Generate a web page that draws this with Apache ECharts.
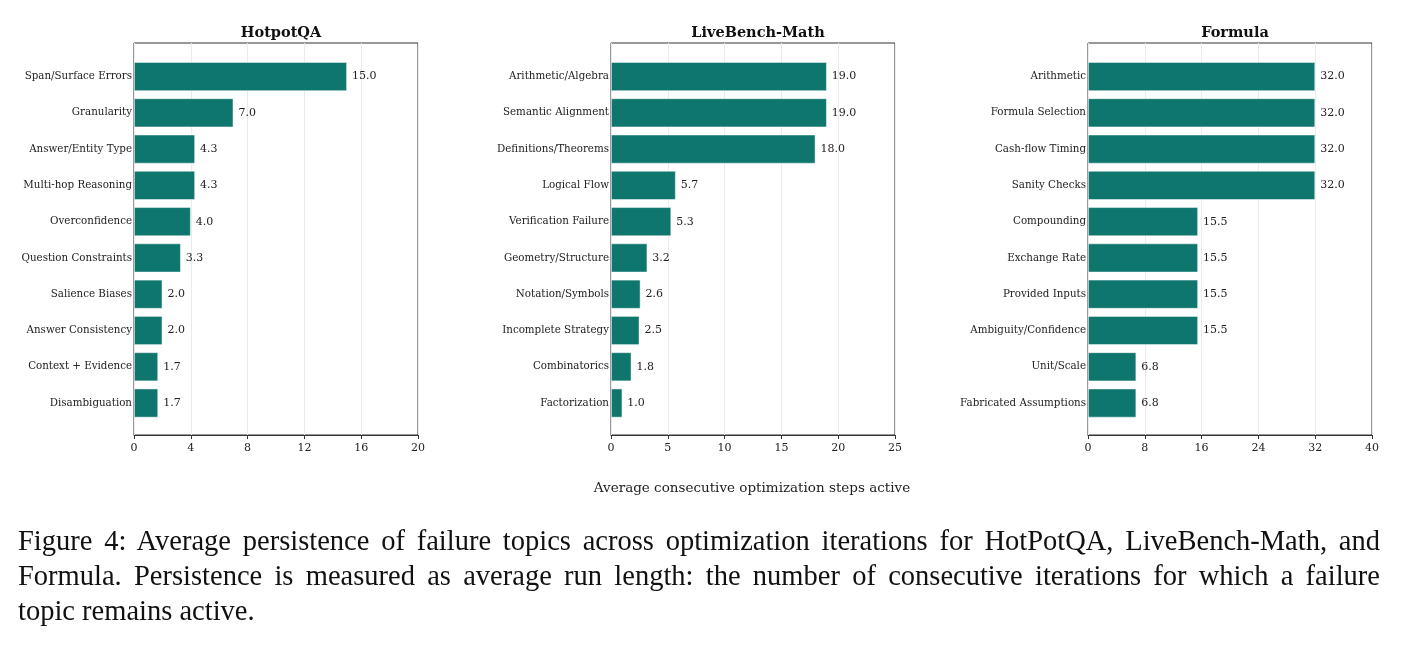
<!DOCTYPE html>
<html>
<head>
<meta charset="utf-8">
<script src="https://cdn.jsdelivr.net/npm/echarts@6/dist/echarts.min.js"></script>
<style>
    body { margin: 0; background: #fff; }
    #main { position: absolute; left: 0; top: 0; width: 1402px; height: 647px; }
    .cap {
        position: absolute;
        left: 18px;
        width: 1362px;
        font-family: 'Liberation Serif', 'Times New Roman', serif;
        font-size: 28.5px;
        line-height: 35px;
        color: #111;
        white-space: nowrap;
    }
    .just { text-align: justify; text-align-last: justify; white-space: normal; }
</style>
</head>
<body>
<div id="main"></div>
<div class="cap just" style="top:522.5px">Figure 4: Average persistence of failure topics across optimization iterations for HotPotQA, LiveBench-Math, and</div>
<div class="cap just" style="top:557.5px">Formula. Persistence is measured as average run length: the number of consecutive iterations for which a failure</div>
<div class="cap" style="top:592.5px">topic remains active.</div>
<script>
// 数据
const titles = ['HotpotQA', 'LiveBench-Math', 'Formula'];

const hotpotCats = ['Span/Surface Errors', 'Granularity', 'Answer/Entity Type', 'Multi-hop Reasoning', 'Overconfidence',
    'Question Constraints', 'Salience Biases', 'Answer Consistency', 'Context + Evidence', 'Disambiguation'];
const hotpotVals = [15.0, 7.0, 4.3, 4.3, 4.0, 3.3, 2.0, 2.0, 1.7, 1.7];

const mathCats = ['Arithmetic/Algebra', 'Semantic Alignment', 'Definitions/Theorems', 'Logical Flow', 'Verification Failure',
    'Geometry/Structure', 'Notation/Symbols', 'Incomplete Strategy', 'Combinatorics', 'Factorization'];
const mathVals = [19.0, 19.0, 18.0, 5.7, 5.3, 3.2, 2.6, 2.5, 1.8, 1.0];

const formulaCats = ['Arithmetic', 'Formula Selection', 'Cash-flow Timing', 'Sanity Checks', 'Compounding',
    'Exchange Rate', 'Provided Inputs', 'Ambiguity/Confidence', 'Unit/Scale', 'Fabricated Assumptions'];
const formulaVals = [32.0, 32.0, 32.0, 32.0, 15.5, 15.5, 15.5, 15.5, 6.8, 6.8];

const xMax = [20, 25, 40];
const xStep = [4, 5, 8];

const xLabel = 'Average consecutive optimization steps active';

// 布局
const panelLeft = [134, 611, 1088];
const panelWidth = 284;
const serif = 'DejaVu Serif';
const barColor = '#0f766e';

let cats = [hotpotCats, mathCats, formulaCats];
let vals = [hotpotVals, mathVals, formulaVals];

let grid = [], xAxis = [], yAxis = [], series = [], title = [];

for (let i = 0; i < 3; i++) {
    // 外框 + x轴
    grid.push({ left: panelLeft[i], width: panelWidth, top: 43, height: 392, show: true, borderColor: '#333', borderWidth: 1 });
    // 柱子区域
    grid.push({ left: panelLeft[i], width: panelWidth, top: 58.4, height: 362.8 });

    xAxis.push({
        type: 'value', gridIndex: i * 2, min: 0, max: xMax[i], interval: xStep[i],
        axisLine: { show: true, lineStyle: { color: '#333', width: 1 } },
        axisTick: { show: true, length: 4, lineStyle: { color: '#333' } },
        axisLabel: { fontFamily: serif, fontSize: 11, color: '#222', margin: 8 },
        splitLine: { show: true, lineStyle: { color: '#ebebeb', width: 1 } }
    });
    xAxis.push({ type: 'value', gridIndex: i * 2 + 1, min: 0, max: xMax[i], show: false });

    yAxis.push({ type: 'value', gridIndex: i * 2, min: 0, max: 1, show: false });
    yAxis.push({
        type: 'category', gridIndex: i * 2 + 1, inverse: true, data: cats[i],
        axisLine: { show: false }, axisTick: { show: false },
        axisLabel: { fontFamily: serif, fontSize: 10.3, color: '#222', margin: 2 }
    });

    series.push({
        type: 'bar', xAxisIndex: i * 2 + 1, yAxisIndex: i * 2 + 1,
        data: vals[i], barCategoryGap: '20%',
        itemStyle: { color: barColor, borderColor: 'rgba(255,255,255,0.6)', borderWidth: 0.8 },
        label: {
            show: true, position: 'right', distance: 5,
            fontFamily: serif, fontSize: 11, color: '#222',
            formatter: p => p.value.toFixed(1)
        },
        silent: true
    });

    title.push({
        text: titles[i], left: panelLeft[i] + panelWidth / 2, top: 20.5, textAlign: 'center',
        textStyle: { fontFamily: serif, fontWeight: 'bold', fontSize: 14.5, color: '#111' }
    });
}

let chart = echarts.init(document.getElementById('main'));
chart.setOption({
    animation: false,
    title: title,
    grid: grid,
    xAxis: xAxis,
    yAxis: yAxis,
    series: series,
    graphic: [{
        type: 'text', x: 752, y: 488,
        style: { text: xLabel, font: '13.5px "DejaVu Serif"', fill: '#222', textAlign: 'center', textVerticalAlign: 'middle' }
    }]
});
</script>
</body>
</html>
